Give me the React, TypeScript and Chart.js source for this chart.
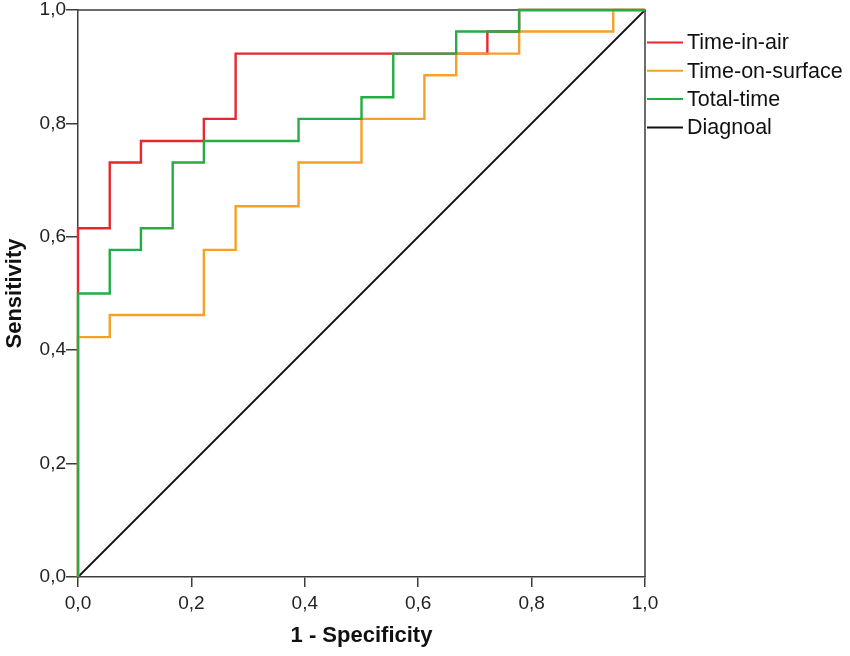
import { useRef, useEffect } from "react";
import { Chart, registerables, type Plugin } from "chart.js";

Chart.register(...registerables);

/* ROC staircase vertices (x = 1 - specificity, y = sensitivity) */
const airX = [0, 0, 0.056, 0.056, 0.111, 0.111, 0.222, 0.222, 0.278, 0.278, 0.722, 0.722, 0.778, 0.778, 1];
const airY = [0, 0.615, 0.615, 0.731, 0.731, 0.769, 0.769, 0.808, 0.808, 0.923, 0.923, 0.962, 0.962, 1, 1];

const surfaceX = [0, 0, 0.056, 0.056, 0.222, 0.222, 0.278, 0.278, 0.389, 0.389, 0.5, 0.5, 0.611, 0.611, 0.667, 0.667, 0.778, 0.778, 0.944, 0.944, 1];
const surfaceY = [0, 0.423, 0.423, 0.462, 0.462, 0.577, 0.577, 0.654, 0.654, 0.731, 0.731, 0.808, 0.808, 0.885, 0.885, 0.923, 0.923, 0.962, 0.962, 1, 1];

const totalX = [0, 0, 0.056, 0.056, 0.111, 0.111, 0.167, 0.167, 0.222, 0.222, 0.389, 0.389, 0.5, 0.5, 0.556, 0.556, 0.667, 0.667, 0.778, 0.778, 1];
const totalY = [0, 0.5, 0.5, 0.577, 0.577, 0.615, 0.615, 0.731, 0.731, 0.769, 0.769, 0.808, 0.808, 0.846, 0.846, 0.923, 0.923, 0.962, 0.962, 1, 1];

const diagX = [0, 1];
const diagY = [0, 1];

const seriesNames = ["Time-in-air", "Time-on-surface", "Total-time", "Diagnoal"];
const seriesColors = ["#e8262f", "#f5a128", "#25ad45", "#111111"];

const axisTicks = [0, 0.2, 0.4, 0.6, 0.8, 1.0];

const FONT = "'Liberation Sans', Arial, sans-serif";
const FRAME = "#3c3c3c";

const toPoints = (xs: number[], ys: number[]) => xs.map((x, i) => ({ x, y: ys[i] }));
const fmt = (v: number) => v.toFixed(1).replace(".", ",");

/* top and right border of the plot box, drawn under the lines */
const framePlugin: Plugin = {
  id: "frame",
  beforeDatasetsDraw(chart) {
    const { ctx, chartArea: a } = chart;
    ctx.save();
    ctx.strokeStyle = FRAME;
    ctx.lineWidth = 1.5;
    ctx.beginPath();
    ctx.moveTo(a.left, a.top);
    ctx.lineTo(a.right, a.top);
    ctx.lineTo(a.right, a.bottom);
    ctx.stroke();
    ctx.restore();
  },
};

/* legend to the right of the plot, in dataset order */
const legendPlugin: Plugin = {
  id: "sideLegend",
  afterDraw(chart) {
    const { ctx, chartArea: a } = chart;
    ctx.save();
    ctx.font = `21.5px ${FONT}`;
    ctx.textBaseline = "middle";
    chart.data.datasets.forEach((ds, i) => {
      const y = a.top + 32.5 + i * 28.3;
      ctx.strokeStyle = ds.borderColor as string;
      ctx.lineWidth = 2;
      ctx.beginPath();
      ctx.moveTo(a.right + 2, y);
      ctx.lineTo(a.right + 38, y);
      ctx.stroke();
      ctx.fillStyle = "#111";
      ctx.fillText(ds.label ?? "", a.right + 42, y + 1);
    });
    ctx.restore();
  },
};

export default function App() {
  const canvasRef = useRef<HTMLCanvasElement>(null);

  useEffect(() => {
    if (!canvasRef.current) return;
    const series = [
      toPoints(airX, airY),
      toPoints(surfaceX, surfaceY),
      toPoints(totalX, totalY),
      toPoints(diagX, diagY),
    ];
    const drawOrder = [3, 2, 1, 4];

    const chart = new Chart(canvasRef.current, {
      type: "scatter",
      data: {
        datasets: series.map((data, i) => ({
          label: seriesNames[i],
          data,
          showLine: true,
          borderColor: seriesColors[i],
          backgroundColor: seriesColors[i],
          borderWidth: i === 3 ? 1.8 : 2.4,
          pointRadius: 0,
          pointHoverRadius: 0,
          clip: false as never,
          order: drawOrder[i],
        })),
      },
      options: {
        responsive: true,
        maintainAspectRatio: false,
        animation: false,
        layout: { padding: { top: 10, right: 205, left: 0, bottom: 0 } },
        plugins: {
          legend: { display: false },
          tooltip: { enabled: false },
        },
        scales: {
          x: {
            type: "linear",
            min: 0,
            max: 1,
            afterFit: (s) => {
              s.height = 79;
              s.paddingLeft = 0;
              s.paddingRight = 0;
            },
            afterBuildTicks: (s) => {
              s.ticks = axisTicks.map((value) => ({ value }));
            },
            grid: { drawOnChartArea: false, drawTicks: true, tickLength: 10, color: FRAME, lineWidth: 1.5 },
            border: { display: true, color: FRAME, width: 1.5 },
            ticks: {
              padding: 5,
              color: "#222",
              font: { family: FONT, size: 19 },
              maxRotation: 0,
              callback: (v) => fmt(Number(v)),
            },
            title: {
              display: true,
              text: "1 - Specificity",
              color: "#111",
              font: { family: FONT, size: 22, weight: "bold" },
              padding: { top: 0, bottom: 7 },
            },
          },
          y: {
            type: "linear",
            min: 0,
            max: 1,
            afterFit: (s) => {
              s.width = 78;
              s.paddingTop = 0;
              s.paddingBottom = 0;
            },
            afterBuildTicks: (s) => {
              s.ticks = axisTicks.map((value) => ({ value }));
            },
            grid: { drawOnChartArea: false, drawTicks: true, tickLength: 12, color: FRAME, lineWidth: 1.5 },
            border: { display: true, color: FRAME, width: 1.5 },
            ticks: {
              padding: 0,
              color: "#222",
              font: { family: FONT, size: 19 },
              callback: (v) => fmt(Number(v)),
            },
            title: {
              display: true,
              text: "Sensitivity",
              color: "#111",
              font: { family: FONT, size: 22, weight: "bold" },
              padding: { top: 2, bottom: 0 },
            },
          },
        },
      },
      plugins: [framePlugin, legendPlugin],
    });

    return () => chart.destroy();
  }, []);

  return (
    <div style={{ position: "fixed", left: 0, top: 0, width: 850, height: 656, background: "#fff" }}>
      <canvas ref={canvasRef} />
    </div>
  );
}
